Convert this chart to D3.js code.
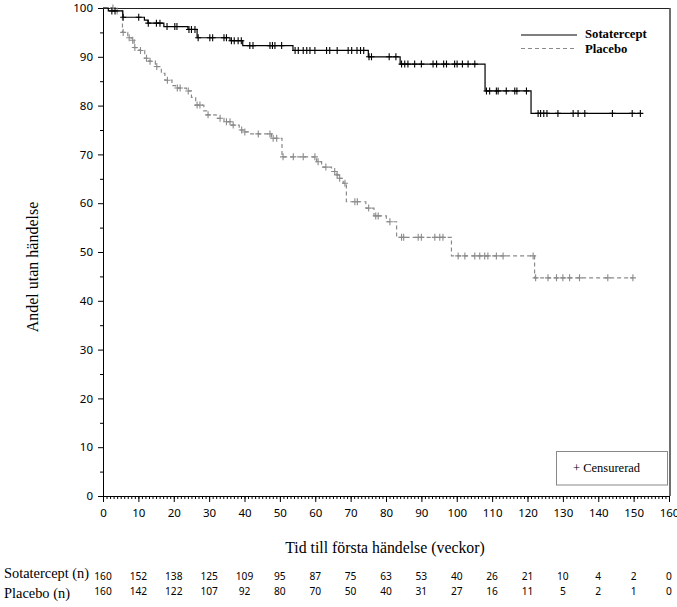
<!DOCTYPE html>
<html><head><meta charset="utf-8">
<script src="https://cdn.jsdelivr.net/npm/d3@7/dist/d3.min.js"></script>
<style>body{margin:0;background:#fff}svg{display:block}</style>
</head><body>
<svg id="c" width="677" height="607"></svg>
<script>
// ---- data ----
const sotaSteps = [[0,100],[1.5,99.4],[5.6,98.1],[11.7,97.5],[12.7,96.9],[17.2,96.2],[24,95.6],[26.6,93.9],[35.9,93.3],[39.5,92.3],[53.7,91.3],[75,90.0],[84,88.5],[108,83.0],[121,78.4]];
const sotaEnd = 151.9;
const sotaCensor = [2.5,3.4,5.7,10.1,12.8,15.1,16.1,18.1,20.3,20.9,24.3,25.0,26.0,26.9,30.2,31.0,34.2,34.9,36.3,37.1,38.2,39.1,41.5,42.4,47.2,47.9,48.6,50.5,54.3,55.2,56.6,57.6,58.5,59.9,63.2,64.1,66.2,69.3,70.3,71.8,72.8,73.7,75.2,75.9,80.9,82.8,84.4,85.3,86.2,88.1,90.0,93.3,94.3,96.3,97.1,99.4,100.1,101.6,103.2,105.1,108.4,109.3,111.2,111.7,114.0,116.4,117.0,119.7,123.0,123.7,124.6,125.5,128.6,132.9,134.3,136.2,144.0,149.6,151.9];

const placeboSteps = [[0,100],[3.2,99.4],[5.5,95.0],[7.0,93.9],[8.2,93.4],[8.8,91.9],[10.2,91.3],[11.8,89.7],[13.0,89.1],[14.8,88.0],[16.5,86.6],[17.5,85.2],[19.5,84.1],[20.5,83.6],[23.6,83.0],[25,81.7],[26.2,80.1],[28.5,78.9],[29.3,78.1],[32,77.4],[34.2,76.7],[36.3,76.0],[38.5,75.0],[40,74.6],[41.5,74.2],[47.6,73.3],[50.6,69.5],[60.4,68.5],[61.8,67.4],[64.6,66.5],[66,65.8],[66.5,65.1],[67.9,64.1],[68.8,60.3],[74.3,59.0],[76.6,57.4],[80.1,56.2],[83.0,53.0],[98.5,49.2],[122,44.7]];
const placeboEnd = 149.8;
const placeboCensor = [2.8,4.0,5.7,7.4,8.4,9.0,10.6,12.3,13.3,15.2,18.2,21.0,21.8,24.1,26.6,27.4,29.7,33.1,34.9,35.9,36.8,39.2,40.1,43.9,47.2,48.1,49.1,50.9,53.8,56.6,59.9,60.8,63.0,65.5,66.2,66.9,68.4,71.2,71.9,75.1,77.1,77.8,81.1,84.4,85.0,89.1,90.0,93.8,95.2,96.1,100.4,102.3,105.1,106.5,107.9,108.8,111.2,113.1,121.6,122.3,125.8,128.2,130.0,131.9,134.7,142.7,149.8];

const xTicks = d3.range(0,161,10);
const yTicks = d3.range(0,101,10);
const riskTimes = d3.range(0,161,10);
const sotaRisk = [160,152,138,125,109,95,87,75,63,53,40,26,21,10,4,2,0];
const placeboRisk = [160,142,122,107,92,80,70,50,40,31,27,16,11,5,2,1,0];
const seriesNames = ["Sotatercept","Placebo"];
const riskLabels = ["Sotatercept (n)","Placebo (n)"];

// ---- layout ----
const svg = d3.select("#c");
const L = 103, R = 669, T = 8, B = 496;
const x = d3.scaleLinear().domain([0,160]).range([L,R]);
const y = d3.scaleLinear().domain([0,100]).range([B,T]);
const serif = "'Liberation Serif','Times New Roman',serif";
const sans = "'Noto Sans','Open Sans',sans-serif";
const black = "#000", gray = "#8a8a8a";

// frame
svg.append("line").attr("x1",L).attr("x2",670).attr("y1",T+0.5).attr("y2",T+0.5).attr("stroke","#222").attr("stroke-width",1);
svg.append("line").attr("x1",670).attr("x2",670).attr("y1",T).attr("y2",B).attr("stroke","#555").attr("stroke-width",1.7);

// axes
function styleAxis(g){ g.selectAll("path,line").attr("stroke","#000"); g.selectAll("text").attr("fill","#000").style("font-family",sans).style("font-size","11.5px"); }
const xMinor = svg.append("g").attr("transform",`translate(0,${B})`)
  .call(d3.axisBottom(x).tickValues(d3.range(0,161,1)).tickSize(3).tickFormat(""));
styleAxis(xMinor);
const xAx = svg.append("g").attr("transform",`translate(0,${B})`)
  .call(d3.axisBottom(x).tickValues(xTicks).tickSize(6).tickPadding(7).tickFormat(d3.format("d")));
styleAxis(xAx);
const yMinor = svg.append("g").attr("transform",`translate(${L},0)`)
  .call(d3.axisLeft(y).tickValues(d3.range(5,100,10)).tickSize(3).tickFormat(""));
styleAxis(yMinor);
const yAx = svg.append("g").attr("transform",`translate(${L},0)`)
  .call(d3.axisLeft(y).tickValues(yTicks).tickSize(5).tickPadding(5).tickFormat(d3.format("d")));
styleAxis(yAx);

// axis titles
svg.append("text").attr("x",385).attr("y",553).attr("text-anchor","middle")
  .style("font-family",serif).style("font-size","15.8px").text("Tid till första händelse (veckor)");
svg.append("text").attr("transform","translate(38,267) rotate(-90)").attr("text-anchor","middle")
  .style("font-family",serif).style("font-size","16px").text("Andel utan händelse");

// curves
function surv(steps,t){ let v=steps[0][1]; for(const s of steps){ if(s[0]<=t) v=s[1]; } return v; }
const line = d3.line().x(d=>x(d[0])).y(d=>y(d[1])).curve(d3.curveStepAfter);
function drawSeries(steps,end,censor,color,dash){
  const pts = steps.concat([[end, steps[steps.length-1][1]]]);
  svg.append("path").datum(pts).attr("d",line).attr("fill","none").attr("stroke",color)
    .attr("stroke-width",1.2).attr("stroke-dasharray",dash);
  svg.append("g").selectAll("path").data(censor).join("path")
    .attr("d",t=>{const cx=x(t), cy=y(surv(steps,t)); return `M${cx-3},${cy}H${cx+3}M${cx},${cy-3.5}V${cy+3.5}`;})
    .attr("stroke",color).attr("stroke-width",1.1).attr("fill","none");
}
drawSeries(placeboSteps,placeboEnd,placeboCensor,gray,"4,3");
drawSeries(sotaSteps,sotaEnd,sotaCensor,black,null);

// legend
const leg = [{name:seriesNames[0],color:black,dash:null,y:35},{name:seriesNames[1],color:gray,dash:"4,3",y:48.5}];
leg.forEach(d=>{
  svg.append("line").attr("x1",521).attr("x2",577).attr("y1",d.y).attr("y2",d.y).attr("stroke",d.color).attr("stroke-width",1.2).attr("stroke-dasharray",d.dash);
  svg.append("text").attr("x",585).attr("y",d.y+2.5+ (d.y>40?1.5:0)).style("font-family",serif).style("font-size","12.7px").style("font-weight","bold").text(d.name);
});
svg.append("rect").attr("x",556.5).attr("y",451.5).attr("width",111).attr("height",33.5).attr("fill","#fff").attr("stroke","#888").attr("stroke-width",1);
svg.append("text").attr("x",573).attr("y",472).style("font-family",serif).style("font-size","12.5px").text("+ Censurerad");

// number at risk
const rows = [{label:riskLabels[0],vals:sotaRisk,yl:578,yn:580},{label:riskLabels[1],vals:placeboRisk,yl:598,yn:595}];
rows.forEach(r=>{
  svg.append("text").attr("x",4).attr("y",r.yl).style("font-family",serif).style("font-size","14.4px").text(r.label);
  svg.append("g").selectAll("text").data(r.vals).join("text")
    .attr("x",(d,i)=>x(riskTimes[i])).attr("y",r.yn).attr("text-anchor","middle")
    .style("font-family",sans).style("font-size","10.2px").text(d=>d);
});
</script>
</body></html>
